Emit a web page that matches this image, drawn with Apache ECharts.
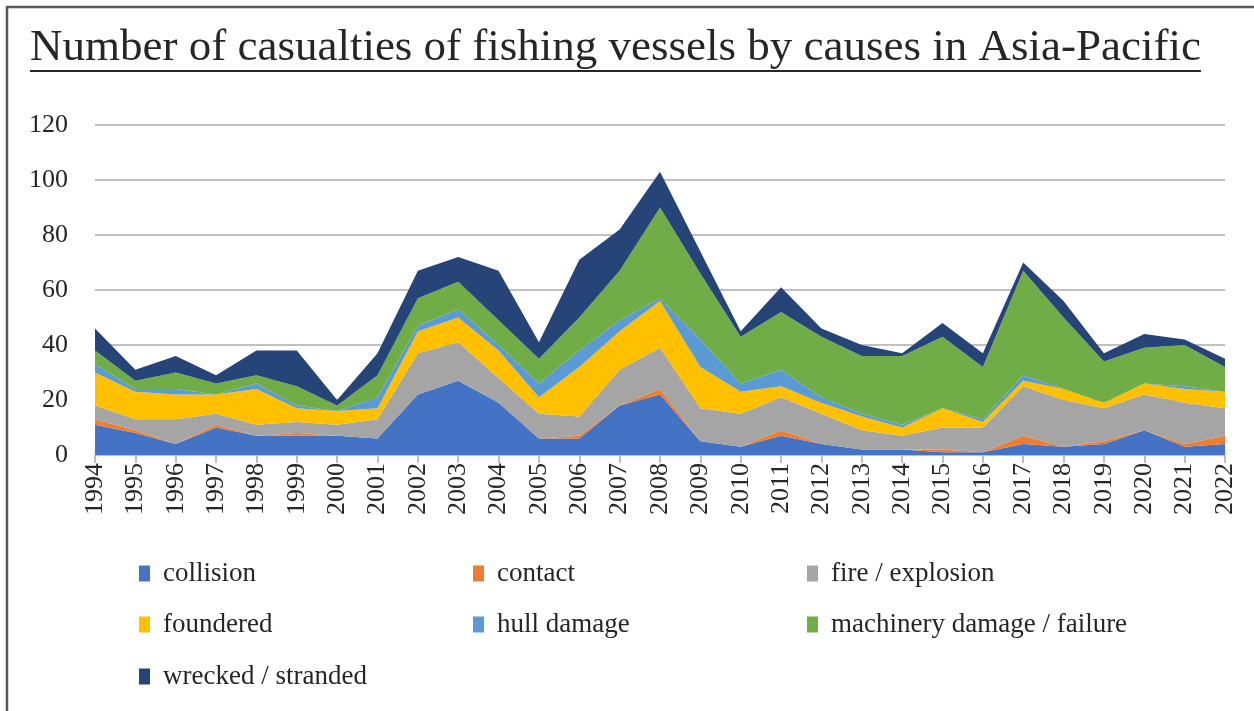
<!DOCTYPE html>
<html>
<head>
<meta charset="utf-8">
<style>
  html, body { margin: 0; padding: 0; background: #ffffff; }
  #chart { width: 1254px; height: 711px; }
</style>
<script src="https://cdn.jsdelivr.net/npm/echarts@6/dist/echarts.min.js"></script>
</head>
<body>
<div id="chart"></div>
<script>
// Casualties of fishing vessels in Asia-Pacific, by cause (stacked areas)
const years = ['1994','1995','1996','1997','1998','1999','2000','2001','2002','2003',
  '2004','2005','2006','2007','2008','2009','2010','2011','2012','2013',
  '2014','2015','2016','2017','2018','2019','2020','2021','2022'];

const collision = [11,8,4,10,7,7,7,6,22,27,19,6,6,18,22,5,3,7,4,2,2,1,1,4,3,4,9,3,4];
const contact   = [2,1,0,1,0,1,0,0,0,0,0,0,1,0,2,0,0,2,0,0,0,1,0,3,0,1,0,1,3];
const fireExpl  = [5,4,9,4,4,4,4,7,15,14,9,9,7,13,15,12,12,12,11,7,5,8,9,18,17,12,13,15,10];
const foundered = [12,10,9,7,13,5,5,4,8,9,10,6,18,14,17,15,8,4,4,5,3,7,2,2,4,2,4,5,6];
const hullDamage = [3,1,2,0,2,1,0,4,2,3,2,5,6,4,1,10,3,6,2,1,1,0,1,2,0,0,0,1,0];
const machinery = [5,3,6,4,3,7,2,8,10,10,9,9,12,18,33,24,17,21,22,21,25,26,19,38,26,15,13,15,9];
const wrecked   = [8,4,6,3,9,13,2,8,10,9,18,6,21,15,13,8,2,9,3,4,1,5,5,3,6,3,5,2,3];

const yTicks = { min: 0, max: 120, step: 20 };

const seriesDefs = [
  { name: 'collision', data: collision, color: '#4472C4' },
  { name: 'contact', data: contact, color: '#ED7D31' },
  { name: 'fire / explosion', data: fireExpl, color: '#A5A5A5' },
  { name: 'foundered', data: foundered, color: '#FFC000' },
  { name: 'hull damage', data: hullDamage, color: '#5B9BD5' },
  { name: 'machinery damage / failure', data: machinery, color: '#70AD47' },
  { name: 'wrecked / stranded', data: wrecked, color: '#264478' }
];

const FONT = "'Liberation Serif', 'DejaVu Serif', serif";
const TEXT_COLOR = '#262626';
const titleText = 'Number of casualties of fishing vessels by causes in Asia-Pacific';
const titleSize = 45;

// width of the title, used to size its underline
function measure(text, size) {
  const ctx = document.createElement('canvas').getContext('2d');
  ctx.font = size + 'px ' + FONT;
  return ctx.measureText(text).width;
}
const titleWidth = measure(titleText, titleSize);

// legend laid out as a 3-column grid
const legendCols = [139, 473, 807];
const legendRows = [560, 611, 663];
const legends = seriesDefs.map((s, i) => ({
  data: [s.name],
  left: legendCols[i % 3],
  top: legendRows[Math.floor(i / 3)],
  orient: 'horizontal',
  icon: 'rect',
  itemWidth: 11,
  itemHeight: 16,
  itemGap: 0,
  padding: 0,
  selectedMode: false,
  textStyle: { fontFamily: FONT, fontSize: 27, color: TEXT_COLOR, padding: [0, 0, 0, 8] }
}));

const chart = echarts.init(document.getElementById('chart'), null, { renderer: 'canvas' });
chart.setOption({
  animation: false,
  backgroundColor: '#ffffff',
  graphic: [
    {
      type: 'rect',
      shape: { x: 7, y: 7, width: 1400, height: 900 },
      style: { fill: 'none', stroke: '#595959', lineWidth: 2.5 },
      silent: true
    },
    {
      type: 'text',
      x: 30, y: 26,
      style: { text: titleText, font: titleSize + 'px ' + FONT, fill: TEXT_COLOR, verticalAlign: 'top' },
      silent: true
    },
    {
      type: 'line',
      shape: { x1: 30, y1: 71, x2: 30 + titleWidth, y2: 71 },
      style: { stroke: TEXT_COLOR, lineWidth: 2 },
      silent: true
    }
  ],
  legend: legends,
  grid: { left: 95, right: 29, top: 125, bottom: 256, containLabel: false },
  xAxis: {
    type: 'category',
    data: years,
    boundaryGap: false,
    axisLine: { show: true, lineStyle: { color: '#BFBFBF', width: 2 } },
    axisTick: { show: true, alignWithLabel: true, length: 8, lineStyle: { color: '#BFBFBF', width: 2 } },
    axisLabel: { rotate: 90, interval: 0, margin: 8, fontFamily: FONT, fontSize: 26, color: TEXT_COLOR }
  },
  yAxis: {
    type: 'value',
    min: yTicks.min,
    max: yTicks.max,
    interval: yTicks.step,
    axisLine: { show: false },
    axisTick: { show: false },
    axisLabel: { margin: 27, fontFamily: FONT, fontSize: 26, color: TEXT_COLOR },
    splitLine: { lineStyle: { color: '#BFBFC4', width: 2 } }
  },
  series: seriesDefs.map(s => ({
    name: s.name,
    type: 'line',
    stack: 'total',
    data: s.data,
    symbol: 'none',
    smooth: false,
    lineStyle: { width: 0 },
    areaStyle: { color: s.color, opacity: 1 },
    itemStyle: { color: s.color },
    emphasis: { disabled: true }
  }))
});
</script>
</body>
</html>
